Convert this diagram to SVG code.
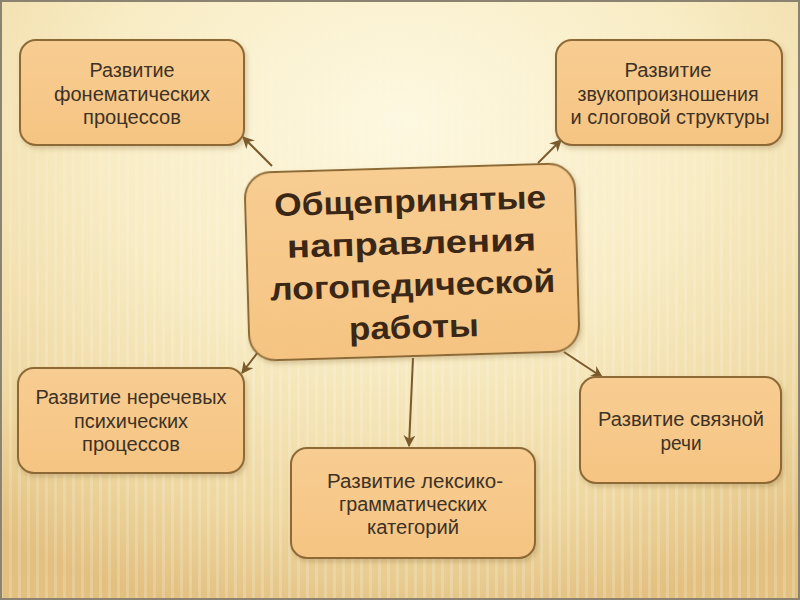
<svg xmlns="http://www.w3.org/2000/svg" width="800" height="600" viewBox="0 0 800 600">
  <defs>
    <radialGradient id="bg" cx="0.5" cy="0.2" r="0.85">
      <stop offset="0" stop-color="#fdf8e0"/>
      <stop offset="0.45" stop-color="#f8ecc4"/>
      <stop offset="0.8" stop-color="#eed7a0"/>
      <stop offset="1" stop-color="#e2c080"/>
    </radialGradient>
    <linearGradient id="boxfill" x1="0" y1="0" x2="0" y2="1">
      <stop offset="0" stop-color="#f8cd92"/>
      <stop offset="1" stop-color="#f5c482"/>
    </linearGradient>
    <pattern id="stripes" width="9" height="600" patternUnits="userSpaceOnUse">
      <rect x="0" y="0" width="3" height="600" fill="#ffffff" opacity="0.35"/>
    </pattern>
    <linearGradient id="stripefade" x1="0" y1="0" x2="0" y2="1">
      <stop offset="0" stop-color="#fff" stop-opacity="0"/>
      <stop offset="0.4" stop-color="#fff" stop-opacity="0.6"/>
      <stop offset="1" stop-color="#fff" stop-opacity="0.9"/>
    </linearGradient>
    <mask id="stripemask">
      <rect x="0" y="0" width="800" height="600" fill="url(#stripefade)"/>
    </mask>
    <filter id="shadow" x="-10%" y="-10%" width="130%" height="130%">
      <feDropShadow dx="2" dy="3" stdDeviation="2.5" flood-color="#8a6a3a" flood-opacity="0.3"/>
    </filter>
    <marker id="arrow" viewBox="0 0 10 10" refX="9" refY="5" markerWidth="6" markerHeight="6" orient="auto-start-reverse" markerUnits="strokeWidth">
      <path d="M0,0 L10,5 L0,10 L3,5 Z" fill="#7a5a2c"/>
    </marker>
    <style>
      .box { fill: url(#boxfill); stroke: #8d6a36; stroke-width: 2; filter: url(#shadow); }
      .t { font-family: "Liberation Sans", Arial, sans-serif; font-size: 20px; fill: #3e3226; text-anchor: middle; }
      .h { font-family: "Liberation Sans", Arial, sans-serif; font-size: 32px; font-weight: bold; fill: #3b2716; text-anchor: middle; }
      .c { stroke: #7a5a2c; stroke-width: 2; fill: none; marker-end: url(#arrow); }
    </style>
  </defs>

  <rect x="0" y="0" width="800" height="600" fill="url(#bg)"/>
  <rect x="0" y="0" width="800" height="600" fill="url(#stripes)" mask="url(#stripemask)" opacity="0.6"/>
  <rect x="1" y="1" width="798" height="598" fill="none" stroke="#8c8272" stroke-width="2"/>

  <g id="connectors">
    <line class="c" x1="272" y1="166" x2="243" y2="137"/>
    <line class="c" x1="538" y1="163" x2="561" y2="140"/>
    <line class="c" x1="258" y1="352" x2="242" y2="373"/>
    <line class="c" x1="413" y1="358" x2="409" y2="446"/>
    <line class="c" x1="564" y1="352" x2="602" y2="377"/>
  </g>

  <g id="node-center" transform="rotate(-1.7 412 262)">
    <rect class="box" x="247" y="168" width="330" height="188" rx="26"/>
    <text class="h" x="412" y="212" textLength="272" lengthAdjust="spacingAndGlyphs">Общепринятые</text>
    <text class="h" x="412" y="254" textLength="249" lengthAdjust="spacingAndGlyphs">направления</text>
    <text class="h" x="412" y="296" textLength="285" lengthAdjust="spacingAndGlyphs">логопедической</text>
    <text class="h" x="412" y="338" textLength="130" lengthAdjust="spacingAndGlyphs">работы</text>
  </g>

  <g id="node-tl">
    <rect class="box" x="20" y="40" width="224" height="105" rx="16"/>
    <text class="t" x="132" y="77" textLength="85" lengthAdjust="spacingAndGlyphs">Развитие</text>
    <text class="t" x="132" y="101" textLength="156" lengthAdjust="spacingAndGlyphs">фонематических</text>
    <text class="t" x="132" y="124" textLength="98" lengthAdjust="spacingAndGlyphs">процессов</text>
  </g>

  <g id="node-tr">
    <rect class="box" x="556" y="40" width="226" height="105" rx="16"/>
    <text class="t" x="668" y="77" textLength="87" lengthAdjust="spacingAndGlyphs">Развитие</text>
    <text class="t" x="668" y="101" textLength="181" lengthAdjust="spacingAndGlyphs">звукопроизношения</text>
    <text class="t" x="670" y="124" textLength="199" lengthAdjust="spacingAndGlyphs">и слоговой структуры</text>
  </g>

  <g id="node-bl">
    <rect class="box" x="18" y="368" width="226" height="105" rx="16"/>
    <text class="t" x="131" y="404" textLength="191" lengthAdjust="spacingAndGlyphs">Развитие неречевых</text>
    <text class="t" x="131" y="428" textLength="114" lengthAdjust="spacingAndGlyphs">психических</text>
    <text class="t" x="131" y="451" textLength="98" lengthAdjust="spacingAndGlyphs">процессов</text>
  </g>

  <g id="node-bottom">
    <rect class="box" x="291" y="448" width="244" height="110" rx="16"/>
    <text class="t" x="415" y="488" textLength="176" lengthAdjust="spacingAndGlyphs">Развитие лексико-</text>
    <text class="t" x="413" y="511" textLength="148" lengthAdjust="spacingAndGlyphs">грамматических</text>
    <text class="t" x="413" y="534" textLength="92" lengthAdjust="spacingAndGlyphs">категорий</text>
  </g>

  <g id="node-br">
    <rect class="box" x="580" y="377" width="201" height="106" rx="16"/>
    <text class="t" x="681" y="426" textLength="166" lengthAdjust="spacingAndGlyphs">Развитие связной</text>
    <text class="t" x="681" y="450" textLength="41" lengthAdjust="spacingAndGlyphs">речи</text>
  </g>
</svg>
